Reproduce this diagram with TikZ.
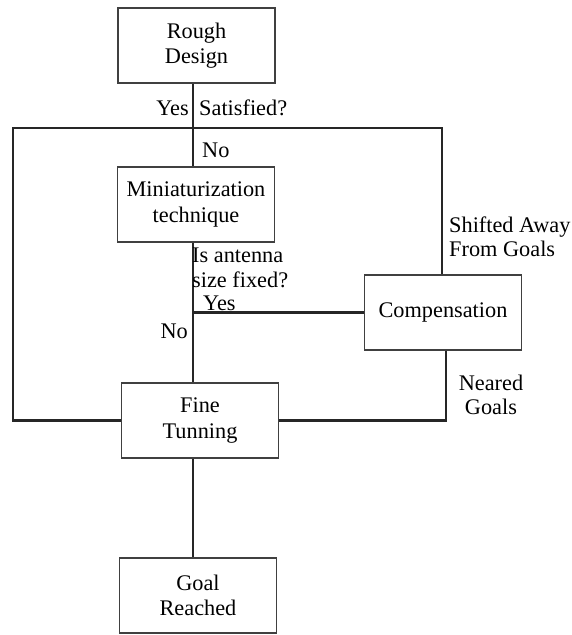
\documentclass[tikz,border=0pt]{standalone}
\usepackage{fontspec}
\setmainfont{Liberation Serif}
\begin{document}
\begin{tikzpicture}[x=1pt,y=-1pt,
  box/.style={draw=black!75, line width=1.3pt, minimum width=157pt, minimum height=75pt, align=center, inner sep=2pt},
  conn/.style={draw=black!85, line width=2.2pt},
  lbl/.style={inner sep=0pt, align=left, font=\fontsize{22.3}{24.5}\selectfont},
  every node/.style={font=\fontsize{22.3}{25.5}\selectfont}]
\useasboundingbox (0,0) rectangle (571,635);
\fill[white] (0,0) rectangle (571,635);
\node[box] (rough) at (196.5,45.5) {Rough\\Design};
\node[box] (mini) at (196,204.5) {Miniaturization\\technique};
\node[box] (comp) at (443,312.5) {Compensation};
\node[box] (fine) at (200,420.5) {Fine\\Tunning};
\node[box] (goal) at (198,595.5) {Goal\\Reached};
\coordinate (spine) at (193,0);
\coordinate (tl) at (13,128);
\coordinate (tr) at (442,128);
\coordinate (cb) at (446,0);
\draw[conn] (rough.south -| spine) -- (mini.north -| spine);
\draw[conn] (fine.west) -| (tl) -- (tr) -- (tr |- comp.north);
\draw[conn] (mini.south -| spine) -- (fine.north -| spine);
\draw[conn] (spine |- comp.west) -- (comp.west);
\draw[conn] (cb |- comp.south) |- (fine.east);
\draw[conn] (fine.south -| spine) -- (goal.north -| spine);
\node[lbl, anchor=east] (yes1) at (189,108) {Yes};
\node[lbl, anchor=west] (sat) at (199,108) {Satisfied?};
\node[lbl, anchor=west] (no1) at (202,150) {No};
\node[lbl, anchor=west] (ant) at (192,268) {Is antenna\\size fixed?};
\node[lbl, anchor=west] (yes2) at (203,303.5) {Yes};
\node[lbl, anchor=east] (no2) at (188,331) {No};
\node[lbl, anchor=west] (shift) at (449,237) {Shifted Away\\From Goals};
\node[lbl, align=center] (near) at (491,395) {Neared\\Goals};
\end{tikzpicture}
\end{document}
